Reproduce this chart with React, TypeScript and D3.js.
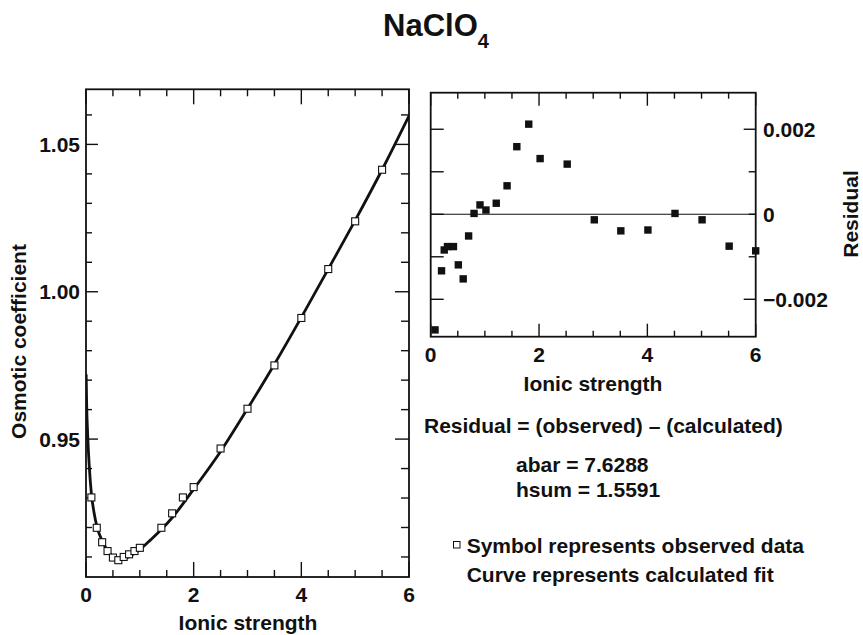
import React from "react";
import * as d3 from "d3";

// ---- Data ----
const obsIonic = [0.1, 0.2, 0.3, 0.4, 0.5, 0.6, 0.7, 0.8, 0.9, 1.0, 1.4, 1.6, 1.8, 2.0, 2.5, 3.0, 3.5, 4.0, 4.5, 5.0, 5.5];
const obsOsmotic = [0.9302, 0.9199, 0.9150, 0.9120, 0.9098, 0.9089, 0.9100, 0.9109, 0.9120, 0.9131, 0.9199, 0.9248, 0.9302, 0.9337, 0.9468, 0.9603, 0.9750, 0.9911, 1.0077, 1.0239, 1.0414];

const fitIonic = [0.003, 0.012, 0.03, 0.06, 0.1, 0.15, 0.2, 0.3, 0.4, 0.5, 0.6, 0.7, 0.8, 0.9, 1.0, 1.2, 1.4, 1.6, 1.8, 2.0, 2.5, 3.0, 3.5, 4.0, 4.5, 5.0, 5.5, 6.0];
const fitOsmotic = [0.972, 0.962, 0.952, 0.941, 0.9315, 0.9250, 0.9205, 0.9155, 0.9122, 0.9103, 0.9094, 0.9094, 0.9101, 0.9112, 0.9125, 0.9158, 0.9193, 0.9233, 0.9280, 0.9330, 0.9458, 0.9603, 0.9754, 0.9913, 1.0077, 1.0242, 1.0414, 1.0597];

const resIonic = [0.08, 0.2, 0.25, 0.31, 0.42, 0.51, 0.6, 0.7, 0.8, 0.91, 1.02, 1.21, 1.41, 1.59, 1.81, 2.02, 2.52, 3.02, 3.51, 4.01, 4.51, 5.01, 5.51, 6.0];
const resValues = [-0.00272, -0.00133, -0.00084, -0.00076, -0.00076, -0.00119, -0.00152, -0.00051, 0.00002, 0.00022, 0.0001, 0.00026, 0.00067, 0.00159, 0.00212, 0.00131, 0.00118, -0.00013, -0.00039, -0.00037, 0.00002, -0.00013, -0.00075, -0.00086];

const xTickLabels = ["0", "2", "4", "6"];
const xTickValues = [0, 2, 4, 6];
const leftYTickValues = [0.95, 1.0, 1.05];
const leftYTickLabels = ["0.95", "1.00", "1.05"];
const rightYTickValues = [0.002, 0, -0.002];
const rightYTickLabels = ["0.002", "0", "\u22120.002"];

const FONT = "'Liberation Sans', Arial, Helvetica, sans-serif";
const FS = 21;

export default function App() {
  // Left panel scales
  const xL = d3.scaleLinear().domain([0, 6]).range([86, 409]);
  const yL = d3.scaleLinear().domain([0.9032, 1.0687]).range([577, 89.3]);
  // Right panel scales
  const xR = d3.scaleLinear().domain([0, 6]).range([430.7, 755.7]);
  const yR = d3.scaleLinear().domain([-0.00288, 0.00286]).range([336.7, 92.7]);

  const xMinor = d3.range(0, 6.001, 0.5);
  const isMajorX = (v: number) => Math.abs(v / 2 - Math.round(v / 2)) < 1e-6;
  const yLMinor = d3.range(91, 107).map((k) => k / 100);
  const isMajorYL = (v: number) => Math.abs(v * 20 - Math.round(v * 20)) < 1e-6;
  const yRMinor = [-0.002, -0.001, 0, 0.001, 0.002];

  const fitPts = fitIonic.map((x, i) => [x, fitOsmotic[i]] as [number, number]);
  const line = d3
    .line<[number, number]>()
    .x((d) => xL(d[0]))
    .y((d) => yL(d[1]))
    .curve(d3.curveMonotoneX);

  const [lx0, lx1] = xL.range();
  const [ly0, ly1] = yL.range();
  const [rx0, rx1] = xR.range();
  const [ry0, ry1] = yR.range();

  const txt = { fontFamily: FONT, fontWeight: 700, fontSize: FS, fill: "#111" } as React.CSSProperties;

  return (
    <svg
      width={863}
      height={635}
      style={{ position: "fixed", left: 0, top: 0, background: "#fff" }}
    >
      <defs>
        <clipPath id="clipL">
          <rect x={lx0} y={ly1} width={lx1 - lx0} height={ly0 - ly1} />
        </clipPath>
      </defs>

      {/* Title */}
      <text x={383} y={36} style={{ ...txt, fontSize: 31 }}>
        NaClO
        <tspan dy={12} style={{ fontSize: 20 }}>4</tspan>
      </text>

      {/* ===== Left panel ===== */}
      <g>
        {/* x ticks, top & bottom */}
        {xMinor.map((v) => {
          const X = xL(v);
          const len = isMajorX(v) ? 15 : 7;
          return (
            <g key={"lx" + v} stroke="#111" strokeWidth={1.4}>
              <line x1={X} x2={X} y1={ly0} y2={ly0 - len} />
              <line x1={X} x2={X} y1={ly1} y2={ly1 + len} />
            </g>
          );
        })}
        {/* y ticks, left & right */}
        {yLMinor.map((v) => {
          const Y = yL(v);
          const maj = isMajorYL(v);
          return (
            <g key={"ly" + v} stroke="#111" strokeWidth={1.4}>
              <line x1={lx0} x2={lx0 + (maj ? 12 : 6)} y1={Y} y2={Y} />
              <line x1={lx1} x2={lx1 - (maj ? 14 : 8)} y1={Y} y2={Y} />
            </g>
          );
        })}
        {/* fit curve */}
        <path d={line(fitPts) || ""} fill="none" stroke="#111" strokeWidth={2.8} clipPath="url(#clipL)" />
        {/* observed squares */}
        {obsIonic.map((x, i) => (
          <rect
            key={"o" + i}
            x={xL(x) - 3.5}
            y={yL(obsOsmotic[i]) - 3.5}
            width={7}
            height={7}
            fill="#fff"
            stroke="#111"
            strokeWidth={1.1}
          />
        ))}
        {/* frame */}
        <rect x={lx0} y={ly1} width={lx1 - lx0} height={ly0 - ly1} fill="none" stroke="#111" strokeWidth={1.8} />
        {/* tick labels */}
        {xTickValues.map((v, i) => (
          <text key={"lxl" + v} x={xL(v)} y={601.7} textAnchor="middle" style={txt}>
            {xTickLabels[i]}
          </text>
        ))}
        {leftYTickValues.map((v, i) => (
          <text key={"lyl" + v} x={80} y={yL(v)} dy="0.36em" textAnchor="end" style={txt}>
            {leftYTickLabels[i]}
          </text>
        ))}
        <text x={(lx0 + lx1) / 2 + 0.5} y={630} textAnchor="middle" style={txt}>
          Ionic strength
        </text>
        <text transform="translate(26,341.5) rotate(-90)" textAnchor="middle" style={txt}>
          Osmotic coefficient
        </text>
      </g>

      {/* ===== Right panel ===== */}
      <g>
        {xMinor.map((v) => {
          const X = xR(v);
          const len = isMajorX(v) ? 13 : 6;
          return (
            <g key={"rx" + v} stroke="#111" strokeWidth={1.4}>
              <line x1={X} x2={X} y1={ry0} y2={ry0 - len} />
              <line x1={X} x2={X} y1={ry1} y2={ry1 + len} />
            </g>
          );
        })}
        {yRMinor.map((v) => {
          const Y = yR(v);
          const maj = Math.abs(Math.abs(v) - 0.002) < 1e-9;
          return (
            <g key={"ry" + v} stroke="#111" strokeWidth={1.4}>
              <line x1={rx0} x2={rx0 + 13} y1={Y} y2={Y} />
              <line x1={rx1} x2={rx1 - (maj ? 12 : 7)} y1={Y} y2={Y} />
            </g>
          );
        })}
        {/* zero line */}
        <line x1={rx0} x2={rx1} y1={yR(0)} y2={yR(0)} stroke="#111" strokeWidth={1.2} />
        {/* residual squares */}
        {resIonic.map((x, i) => (
          <rect
            key={"r" + i}
            x={xR(x) - 3.7}
            y={yR(resValues[i]) - 3.7}
            width={7.4}
            height={7.4}
            fill="#111"
          />
        ))}
        <rect x={rx0} y={ry1} width={rx1 - rx0} height={ry0 - ry1} fill="none" stroke="#111" strokeWidth={1.8} />
        {xTickValues.map((v, i) => (
          <text key={"rxl" + v} x={xR(v)} y={361.7} textAnchor="middle" style={txt}>
            {xTickLabels[i]}
          </text>
        ))}
        {rightYTickValues.map((v, i) => (
          <text key={"ryl" + v} x={763} y={yR(v)} dy="0.36em" textAnchor="start" style={txt}>
            {rightYTickLabels[i]}
          </text>
        ))}
        <text x={593} y={391} textAnchor="middle" style={txt}>
          Ionic strength
        </text>
        <text transform="translate(858,214) rotate(-90)" textAnchor="middle" style={txt}>
          Residual
        </text>
      </g>

      {/* ===== Annotations ===== */}
      <text x={424} y={433} style={txt}>Residual = (observed) – (calculated)</text>
      <text x={516} y={471.7} style={txt}>abar = 7.6288</text>
      <text x={516} y={496.7} style={txt}>hsum = 1.5591</text>
      <rect x={453.5} y={541.5} width={6.5} height={6.5} fill="#fff" stroke="#111" strokeWidth={1} />
      <text x={466.7} y={553.3} style={txt}>Symbol represents observed data</text>
      <text x={466.7} y={581.7} style={txt}>Curve represents calculated fit</text>
    </svg>
  );
}
